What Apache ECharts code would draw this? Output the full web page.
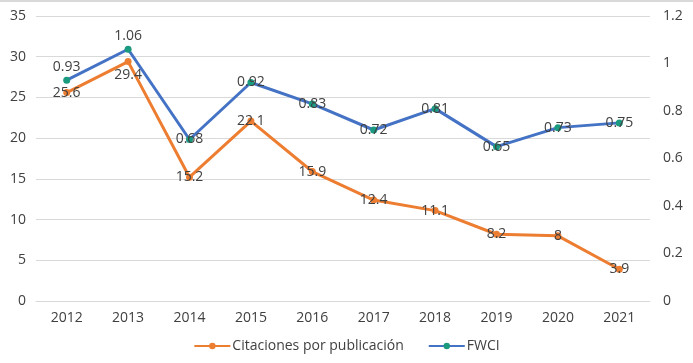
<!DOCTYPE html>
<html><head><meta charset="utf-8">
<script src="https://cdn.jsdelivr.net/npm/echarts@6/dist/echarts.min.js"></script>
<style>html,body{margin:0;padding:0;background:#fff}#c{width:693px;height:363px}</style>
</head><body><div id="c"></div>
<script>
const years = ['2012','2013','2014','2015','2016','2017','2018','2019','2020','2021'];
const citaciones = [25.6, 29.4, 15.2, 22.1, 15.9, 12.4, 11.1, 8.2, 8, 3.9];
const fwci = [0.93, 1.06, 0.68, 0.92, 0.83, 0.72, 0.81, 0.65, 0.73, 0.75];

const FONT = 'Open Sans';
const TXT = '#404040';
const chart = echarts.init(document.getElementById('c'));
const lbl = {show:true, position:'inside', color:TXT, fontFamily:FONT, fontSize:14};
chart.setOption({
  animation:false,
  graphic:[{type:'rect', shape:{x:0, y:0, width:693, height:2}, style:{fill:'#d9d9d9'}, silent:true}],
  grid:{left:36, right:43, top:16, bottom:62},
  legend:{bottom:5, left:'center', itemGap:24, itemWidth:36, itemHeight:8,
    textStyle:{color:TXT, fontFamily:FONT, fontSize:14, padding:[0,0,0,-3]},
    data:['Citaciones por publicación','FWCI']},
  xAxis:{type:'category', data:years, boundaryGap:true,
    axisLine:{show:true, lineStyle:{color:'#d9d9d9'}}, axisTick:{show:false},
    axisLabel:{color:TXT, fontFamily:FONT, fontSize:14, margin:10}},
  yAxis:[
    {type:'value', min:0, max:35, interval:5,
     axisLabel:{color:TXT, fontFamily:FONT, fontSize:14, margin:10},
     splitLine:{lineStyle:{color:'#d9d9d9'}}, axisLine:{show:false}, axisTick:{show:false}},
    {type:'value', min:0, max:1.2, interval:0.2,
     axisLabel:{color:TXT, fontFamily:FONT, fontSize:14, margin:13, formatter:v=>String(+v.toFixed(1))},
     splitLine:{show:false}, axisLine:{show:false}, axisTick:{show:false}}
  ],
  series:[
    {name:'Citaciones por publicación', type:'line', yAxisIndex:0,
     data:citaciones.map((v,i)=>i===1?{value:v,label:{position:'bottom',distance:3}}:v),
     symbol:'circle', symbolSize:7, lineStyle:{width:3, color:'#ED7D31'},
     itemStyle:{color:'#ED7D31'}, label:lbl, z:2},
    {name:'FWCI', type:'line', yAxisIndex:1,
     data:fwci.map((v,i)=>i<2?{value:v,label:{position:'top',distance:3}}:v),
     symbol:'circle', symbolSize:7, lineStyle:{width:3, color:'#4472C4'},
     itemStyle:{color:'#1A9A7E'}, label:lbl, z:3}
  ]
});
</script></body></html>
